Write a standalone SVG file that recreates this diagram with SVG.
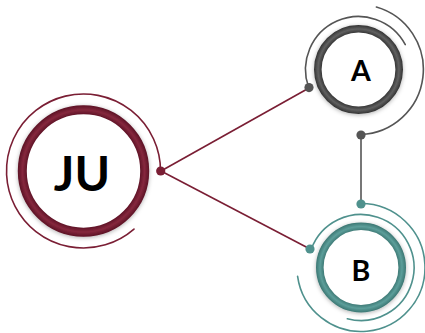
<svg xmlns="http://www.w3.org/2000/svg" width="425" height="333" viewBox="0 0 425 333">
<defs>
<style>
.lbl{font-family:Lato,"Liberation Sans",Arial,sans-serif;font-weight:700;fill:#000;text-anchor:middle}
.arc{fill:none;stroke-width:1.6;stroke-linecap:round}
.ring{fill:#fff;filter:url(#sh)}
.red{stroke:#7a1e34}
.gray{stroke:#555}
.teal{stroke:#4f918d}
</style>
<filter id="sh" x="-30%" y="-30%" width="160%" height="160%">
<feDropShadow dx="0" dy="1" stdDeviation="2" flood-color="#000" flood-opacity="0.3"/>
</filter>
<radialGradient id="gJU" gradientUnits="userSpaceOnUse" cx="83.5" cy="171" r="66">
<stop offset="0.85" stop-color="#5a1124"/>
<stop offset="0.925" stop-color="#85283d"/>
<stop offset="1" stop-color="#5a1124"/>
</radialGradient>
<radialGradient id="gA" gradientUnits="userSpaceOnUse" cx="358.5" cy="69.5" r="44.5">
<stop offset="0.82" stop-color="#333"/>
<stop offset="0.91" stop-color="#606060"/>
<stop offset="1" stop-color="#333"/>
</radialGradient>
<radialGradient id="gB" gradientUnits="userSpaceOnUse" cx="361" cy="267.5" r="45">
<stop offset="0.82" stop-color="#3c7773"/>
<stop offset="0.91" stop-color="#5c9e9a"/>
<stop offset="1" stop-color="#3c7773"/>
</radialGradient>
</defs>

<g id="connectors">
<line x1="161" y1="171" x2="309" y2="88" stroke="#7a1e34" stroke-width="1.6"/>
<line x1="161" y1="171" x2="310" y2="249" stroke="#7a1e34" stroke-width="1.6"/>
<line x1="361" y1="135" x2="361" y2="204" stroke="#555" stroke-width="1.6"/>
</g>

<g id="node-JU">
<path class="arc red" d="M160.5 171 A77 77 0 1 0 134 229.1"/>
<circle class="ring" cx="83.5" cy="171" r="61.2" stroke="url(#gJU)" stroke-width="9"/>
<text class="lbl" x="82" y="191" font-size="48">JU</text>
<circle cx="160.7" cy="171" r="4.6" fill="#7a1e34"/>
</g>

<g id="node-A">
<path class="arc gray" d="M308.7 87.6 A53 53 0 0 1 405.3 44.6"/>
<path class="arc gray" d="M376.4 7 A65 65 0 0 1 360.8 134.4"/>
<circle class="ring" cx="358.5" cy="69.5" r="40.7" stroke="url(#gA)" stroke-width="7.6"/>
<text class="lbl" x="361" y="80.7" font-size="28.5">A</text>
<circle cx="309" cy="87.6" r="4.6" fill="#555"/>
<circle cx="361" cy="135" r="4.6" fill="#555"/>
</g>

<g id="node-B">
<path class="arc teal" d="M311.2 249.4 A53 53 0 1 1 347.3 318.7"/>
<path class="arc teal" d="M361 203.5 A64 64 0 1 1 297.6 276.4"/>
<circle class="ring" cx="361" cy="267.5" r="41.2" stroke="url(#gB)" stroke-width="7.6"/>
<text class="lbl" x="361" y="280.7" font-size="28.5">B</text>
<circle cx="310" cy="249" r="4.6" fill="#4f918d"/>
<circle cx="361" cy="204" r="4.6" fill="#4f918d"/>
</g>
</svg>
